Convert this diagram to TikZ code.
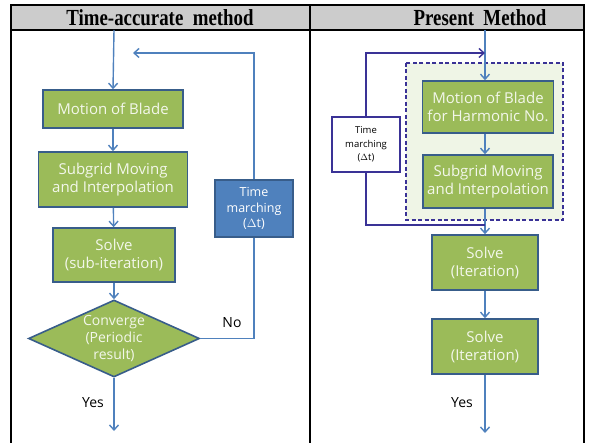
\documentclass[tikz,border=0pt]{standalone}
\usepackage{fontspec}
\setmainfont{Liberation Serif}
\newfontfamily\boxfont{Open Sans}
\usetikzlibrary{arrows.meta,shapes.geometric}
\definecolor{boxgreen}{HTML}{9BBB59}
\definecolor{boxedge}{HTML}{385D8A}
\definecolor{flowblue}{HTML}{4F81BD}
\definecolor{loopnavy}{HTML}{3A3296}
\definecolor{panelgreen}{HTML}{EFF5E6}
\tikzset{
  stepbox/.style={draw=boxedge,line width=1.6pt,fill=boxgreen,text=white!88!boxgreen,
    font=\boxfont\fontsize{15}{18}\selectfont,align=center,inner sep=0pt},
  flow/.style={flowblue,line width=1.4pt,-{Straight Barb[length=5pt,width=9pt]}},
  loopline/.style={loopnavy,line width=1.4pt},
  heading/.style={font=\fontsize{23}{25}\selectfont\bfseries}
}
\begin{document}
\begin{tikzpicture}[x=1pt,y=-1pt]
    \useasboundingbox (0,0) rectangle (589,443);
    % table frame
    \fill[black!20] (11,5) rectangle (584,30);
    \draw[line width=1.4pt] (11,443)--(11,5)--(584,5)--(584,443);
    \draw[line width=1.2pt] (11,30)--(584,30);
    \draw[line width=1.2pt] (310,5)--(310,443);
    \node[heading] (ttl) at (160,17.5){\scalebox{0.82}[1]{Time-accurate\ \ method}};
    \node[heading] (ttr) at (480,17.5){\scalebox{0.82}[1]{Present\ \ Method}};
    % left column: time-accurate
    \coordinate (lin) at (114,30);
    \node[stepbox,minimum width=140pt,minimum height=38pt] (motion) at (113,109){Motion of Blade};
    \node[stepbox,minimum width=149pt,minimum height=55pt] (subgrid) at (113,179.5){Subgrid Moving\\and Interpolation};
    \node[stepbox,minimum width=122pt,minimum height=54pt] (solve) at (114,255){Solve\\(sub-iteration)};
    \node[diamond,stepbox,minimum width=171pt,minimum height=77pt] (conv) at (114,338.5){};
    \node[text=white!88!boxgreen,font=\boxfont\fontsize{14}{17}\selectfont,align=center] (convtxt) at (114,339){Converge\\(Periodic\\result)};
    \node[draw=boxedge,line width=1.6pt,fill=flowblue,text=white,font=\boxfont\fontsize{12.5}{15.5}\selectfont,
      align=center,minimum width=78pt,minimum height=57pt,inner sep=0pt] (tml) at (254,208.5){Time\\marching\\($\Delta$t)};
    \coordinate (lend) at (133,53);
    \coordinate (lout) at (114,431);
    \draw[flow] (lin)--(motion.north);
    \draw[flow] (motion)--(subgrid);
    \draw[flow] (subgrid)--(solve);
    \draw[flow] (solve)--(conv.north);
    \draw[flow] (conv.south)--(lout);
    \draw[flowblue,line width=1.4pt] (conv.east)-|(tml.south);
    \draw[flow] (tml.north)|-(lend);
    \node[font=\boxfont\fontsize{14}{17}\selectfont] (yesl) at (93,403){Yes};
    \node[font=\boxfont\fontsize{14}{17}\selectfont] (nol) at (232,323){No};
    % right column: present method
    \fill[panelgreen] (406,63) rectangle (563,220);
    \draw[loopnavy,line width=1.3pt,dash pattern=on 4pt off 2.5pt] (406,63) rectangle (563,220);
    \coordinate (rin) at (485,30);
    \node[stepbox,minimum width=131pt,minimum height=52pt] (motionh) at (488,107){Motion of Blade\\for Harmonic No.};
    \node[stepbox,minimum width=130pt,minimum height=53pt] (subgridh) at (488,181.5){Subgrid Moving\\and Interpolation};
    \node[stepbox,minimum width=106pt,minimum height=55pt] (solvea) at (485,262.5){Solve\\(Iteration)};
    \node[stepbox,minimum width=106pt,minimum height=55pt] (solveb) at (485,346.5){Solve\\(Iteration)};
    \node[draw=loopnavy,line width=1.5pt,fill=white,font=\boxfont\fontsize{9.5}{13.5}\selectfont,
      align=center,minimum width=68pt,minimum height=55pt,inner sep=0pt] (tmr) at (366,144.5){Time\\marching\\($\Delta$t)};
    \coordinate (rtop) at (485,53);
    \coordinate (rjoin) at (485,225);
    \coordinate (rout) at (485,433);
    \draw[flow] (rin)--(motionh.north -| rin);
    \draw[flow] (motionh.south -| rin)--(subgridh.north -| rin);
    \draw[flow] (subgridh.south -| rin)--(solvea.north);
    \draw[flow] (solvea)--(solveb);
    \draw[flow] (solveb)--(rout);
    \draw[loopline] (rjoin)-|(tmr.south);
    \draw[loopline,-{Straight Barb[length=5pt,width=9pt]}] (tmr.north)|-(rtop);
    \node[font=\boxfont\fontsize{14}{17}\selectfont] (yesr) at (462,403){Yes};
\end{tikzpicture}
\end{document}
